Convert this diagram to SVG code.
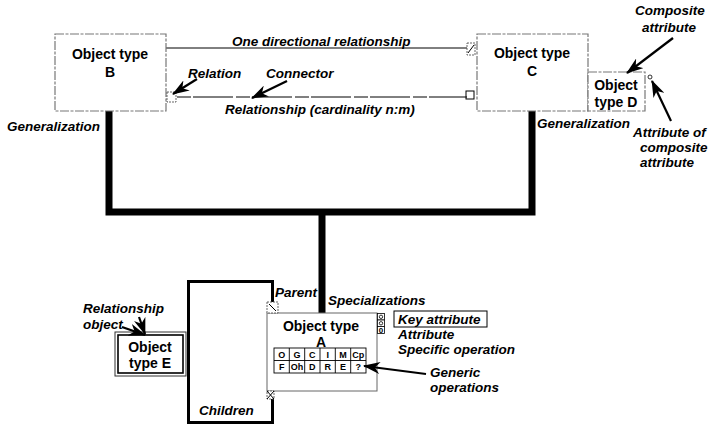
<svg xmlns="http://www.w3.org/2000/svg" width="718" height="425" viewBox="0 0 718 425">
  <style>
    text { font-family: "Liberation Sans", Arial, sans-serif; fill: #000; }
    .lbl { font-size: 13.5px; font-weight: bold; font-style: italic; }
    .name { font-size: 14px; font-weight: bold; text-anchor: middle; }
    .cell { font-size: 9px; font-weight: bold; text-anchor: middle; }
    .obj { fill: #fff; stroke: #777; stroke-width: 1.2; stroke-dasharray: 9 1.5 3 1.5; }
    .thin { fill: none; stroke: #000; stroke-width: 1; }
    .gen { fill: none; stroke: #000; stroke-width: 7; stroke-linejoin: miter; }
    .arrow { fill: none; stroke: #000; stroke-width: 2.2; marker-end: url(#head); }
    .mark { fill: #fff; stroke: #555; stroke-width: 0.9; stroke-dasharray: 2 1; }
  </style>
  <defs>
    <marker id="head" markerUnits="userSpaceOnUse" markerWidth="17" markerHeight="12" refX="16" refY="6" orient="auto">
      <path d="M0,0 L17,6 L0,12 L5,6 Z" fill="#000"/>
    </marker>
  </defs>
  <rect width="718" height="425" fill="#fff"/>

  <!-- connectors: relationships and generalization tree -->
  <g id="connectors">
    <!-- one directional relationship B -> C -->
    <path class="thin" d="M166,48 H467"/>
    <!-- relationship n:m between B and C -->
    <path class="thin" d="M177,97 H467" stroke-dasharray="14 2 40 3"/>
    <!-- generalization tree -->
    <path class="gen" d="M109,111 V212 H532 V111"/>
    <path class="gen" d="M322,212 V313"/>
  </g>

  <g id="node-b">
    <rect class="obj" x="55" y="34" width="111" height="77"/>
    <text class="name" x="110" y="59">Object type</text>
    <text class="name" x="110" y="77">B</text>
    <!-- relation end -->
    <rect class="mark" x="167" y="92" width="9" height="10"/>
  </g>

  <g id="node-c">
    <rect class="obj" x="477" y="34" width="111" height="77"/>
    <text class="name" x="532" y="58">Object type</text>
    <text class="name" x="532" y="76">C</text>
    <!-- one directional end -->
    <rect class="mark" x="467" y="43" width="8" height="12"/>
    <path class="thin" d="M468,53 L474,45" stroke-width="0.8"/>
    <!-- n:m end -->
    <rect class="thin" x="466" y="91" width="8" height="8" fill="#fff"/>
  </g>

  <g id="node-d">
    <rect class="obj" x="588" y="72" width="57" height="39"/>
    <text class="name" x="616" y="90">Object</text>
    <text class="name" x="616" y="107">type D</text>
    <!-- attribute of composite attribute -->
    <circle cx="650" cy="77" r="2" fill="none" stroke="#000" stroke-width="0.8"/>
  </g>

  <g id="node-children">
    <rect x="188.5" y="281.5" width="84" height="141" fill="#fff" stroke="#000" stroke-width="3"/>
    <text class="lbl" x="199" y="415">Children</text>
  </g>

  <g id="node-e">
    <rect x="115" y="332" width="71" height="44" fill="#fff" stroke="#333" stroke-width="1"/>
    <rect x="118" y="335" width="65" height="38" fill="none" stroke="#000" stroke-width="1.6"/>
    <text class="name" x="150" y="352">Object</text>
    <text class="name" x="150" y="368">type E</text>
  </g>

  <g id="node-a">
    <rect x="267" y="313" width="110" height="78" fill="#fff" stroke="#666" stroke-width="1"/>
    <text class="name" x="321" y="331">Object type</text>
    <text class="name" x="321" y="347">A</text>
    <!-- parent / child markers -->
    <rect class="mark" x="267" y="302" width="11" height="11"/>
    <path class="thin" d="M269,304 L276,311" stroke-width="0.8"/>
    <rect class="mark" x="267" y="391" width="7" height="8"/>
    <path class="thin" d="M267,391 L274,399 M274,391 L267,399" stroke-width="0.7"/>
    <!-- attributes: key, plain, specific operation -->
    <rect x="377.5" y="313.5" width="7" height="6.5" fill="#fff" stroke="#000" stroke-width="0.8"/>
    <circle cx="381" cy="316.8" r="1.7" fill="none" stroke="#000" stroke-width="0.8"/>
    <rect x="377.5" y="320" width="7" height="6.5" fill="#fff" stroke="#000" stroke-width="0.8"/>
    <circle cx="381" cy="323.3" r="1.7" fill="none" stroke="#000" stroke-width="0.8"/>
    <rect x="377.5" y="326.5" width="7" height="7" fill="#fff" stroke="#000" stroke-width="0.8"/>
    <text x="381" y="332.5" font-size="8" font-weight="bold" text-anchor="middle">0</text>
    <!-- generic operations grid -->
    <g fill="none" stroke="#000" stroke-width="0.9">
      <rect x="274" y="348" width="92" height="25"/>
      <path d="M274,360.5 H366 M289.3,348 V373 M304.7,348 V373 M320,348 V373 M335.3,348 V373 M350.7,348 V373"/>
    </g>
    <text class="cell" x="281.7" y="358">O</text>
    <text class="cell" x="297" y="358">G</text>
    <text class="cell" x="312.3" y="358">C</text>
    <text class="cell" x="327.7" y="358">I</text>
    <text class="cell" x="343" y="358">M</text>
    <text class="cell" x="358.3" y="358">Cp</text>
    <text class="cell" x="281.7" y="370">F</text>
    <text class="cell" x="297" y="370">Oh</text>
    <text class="cell" x="312.3" y="370">D</text>
    <text class="cell" x="327.7" y="370">R</text>
    <text class="cell" x="343" y="370">E</text>
    <text class="cell" x="358.3" y="370">?</text>
  </g>

  <!-- labels -->
  <g id="labels">
    <text class="lbl" x="232" y="46">One directional relationship</text>
    <text class="lbl" x="188" y="78">Relation</text>
    <text class="lbl" x="266" y="78">Connector</text>
    <text class="lbl" x="225" y="114">Relationship (cardinality n:m)</text>
    <text class="lbl" x="7" y="131">Generalization</text>
    <text class="lbl" x="537" y="128">Generalization</text>
    <text class="lbl" x="635" y="15">Composite</text>
    <text class="lbl" x="642" y="32">attribute</text>
    <text class="lbl" x="633" y="137">Attribute of</text>
    <text class="lbl" x="640" y="152">composite</text>
    <text class="lbl" x="640" y="167">attribute</text>
    <text class="lbl" x="83" y="313">Relationship</text>
    <text class="lbl" x="83" y="329">object</text>
    <text class="lbl" x="275" y="297">Parent</text>
    <text class="lbl" x="328" y="305">Specializations</text>
    <rect x="394" y="311" width="93" height="16" fill="none" stroke="#000" stroke-width="1"/>
    <text class="lbl" x="398" y="324">Key attribute</text>
    <text class="lbl" x="398" y="339">Attribute</text>
    <text class="lbl" x="398" y="354">Specific operation</text>
    <text class="lbl" x="430" y="377">Generic</text>
    <text class="lbl" x="430" y="392">operations</text>
  </g>

  <!-- annotation arrows, drawn over the nodes they point at -->
  <g id="annotation-arrows">
    <path class="arrow" d="M197,79 L173,94"/>
    <path class="arrow" d="M287,81 L252,98"/>
    <path class="arrow" d="M673,38 L627,73"/>
    <path class="arrow" d="M671,121 L652,81"/>
    <path class="arrow" d="M122,327 L145,335"/>
    <path class="arrow" d="M139,317 L145,334"/>
    <path class="arrow" d="M426,374 L364,366"/>
  </g>
</svg>
